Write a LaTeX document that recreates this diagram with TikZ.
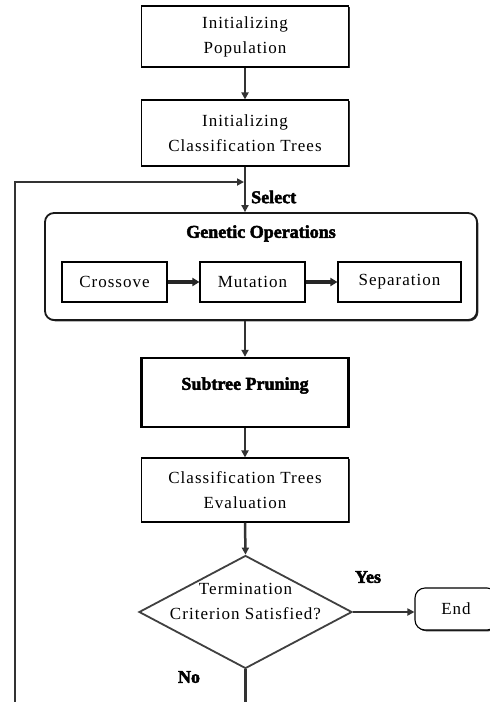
\documentclass[tikz,border=0pt]{standalone}
\usepackage{fontspec}
\setmainfont{Liberation Serif}[LetterSpace=6]
\newfontfamily\heavy{Liberation Serif}[FakeBold=2.6]
\usetikzlibrary{arrows.meta,shapes.geometric,shadows}
\tikzset{
  txt/.style={font=\fontsize{17}{25}\selectfont, align=center},
  lab/.style={font=\heavy\bfseries\fontsize{18}{20}\selectfont, inner sep=0pt},
  box/.style={txt, draw=black, line width=1.1pt, fill=white, inner sep=0pt,
    general shadow={shadow xshift=1.3pt, shadow yshift=-1.3pt, fill=black!80}},
  conn/.style={draw=black!80, line width=2.5pt, -{Triangle[length=7pt,width=7pt]}},
  thickconn/.style={draw=black!85, line width=3.4pt, -{Triangle[length=7pt,width=8pt]}},
}
\begin{document}
\begin{tikzpicture}[x=1pt,y=-1pt]
\useasboundingbox[fill=white] (0,0) rectangle (490,702);
% main stack
\node[box, minimum width=207, minimum height=61] (b1) at (245,36.5) {Initializing\\Population};
\node[box, minimum width=207, minimum height=66] (b2) at (245,133) {Initializing\\Classification Trees};
\node[box, draw=black!90, line width=1.8pt, rounded corners=9pt, minimum width=432, minimum height=107,
  label={[lab, anchor=north, yshift=-13pt]north:Genetic Operations}] (gen) at (261,266.5) {};
\node[box, minimum width=105, minimum height=40] (cross) at (114.5,282) {Crossove};
\node[box, minimum width=105, minimum height=40] (mut) at (252.5,282) {Mutation};
\node[box, minimum width=123, minimum height=40] (sep) at (399.5,282) {Separation};
\node[box, line width=2.4pt, minimum width=207, minimum height=69,
  label={[lab, yshift=7pt]center:Subtree Pruning}] (sub) at (245,392.5) {};
\node[box, minimum width=207, minimum height=64] (eval) at (245,490) {Classification Trees\\Evaluation};
\node[diamond, draw=black!75, line width=1.8pt, fill=white, inner sep=0pt, minimum width=213, minimum height=113,
  label={[txt, yshift=11pt]center:Termination\\Criterion Satisfied?}] (dia) at (245.5,612) {};
\node[box, rounded corners=10pt, minimum width=82, minimum height=42] (end) at (456,609) {End};
% loop coordinates
\coordinate (loopbl) at (15,703);
\coordinate (looptl) at (15,182);
% connectors
\draw[conn] (b1.south) -- (b2.north);
\draw[conn] (b2.south) -- (b2.south |- gen.north);
\draw[conn] (gen.south -| b2.south) -- (sub.north);
\draw[conn] (sub.south) -- (eval.north);
\draw[conn] (eval.south) -- (dia.north);
\draw[conn] (dia.east) -- (dia.east -| end.west);
\draw[thickconn] (cross.east) -- (mut.west);
\draw[thickconn] (mut.east) -- (sep.west);
\draw[conn] (dia.south) -- (dia.south |- loopbl) -- (loopbl) -- (looptl) -- ([xshift=-1pt]looptl -| b2.south);
% labels
\node[lab, anchor=west] (sel) at (251,197) {Select};
\node[lab] (yes) at (368,577) {Yes};
\node[lab] (no) at (189,677) {No};
\end{tikzpicture}
\end{document}
